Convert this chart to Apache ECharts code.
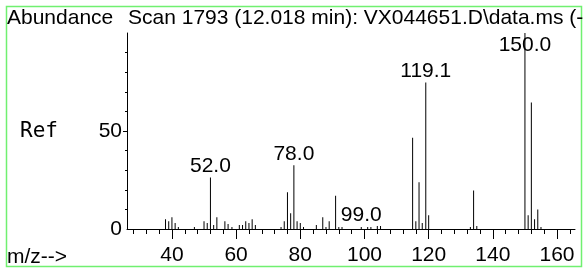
<!DOCTYPE html>
<html>
<head>
<meta charset="utf-8">
<script src="https://cdn.jsdelivr.net/npm/echarts@6/dist/echarts.min.js"></script>
<style>
  html, body { margin: 0; padding: 0; background: #fff; }
  #chart { width: 585px; height: 270px; }
</style>
</head>
<body>
<div id="chart"></div>
<script>
// peaks (m/z, relative abundance)
const mz = [38, 39, 40, 41, 42, 47, 50, 51, 52, 53, 54, 56.5, 57.5, 58.7,
  61, 62, 63, 64, 65, 66, 74, 75, 76, 77, 78, 79, 80, 81,
  85, 87, 88, 89, 91, 92, 93, 99, 101, 102, 104, 105,
  115, 116, 117, 118, 119.1, 120, 133, 134, 135,
  150, 151, 152, 153, 154, 155]
const abundance = [5, 4, 6, 3, 1, 1, 4, 3, 26.3, 2, 6, 4, 2.5, 1,
  2, 2, 4, 3, 5, 2, 1, 4, 18.8, 8, 32.5, 4, 3, 1,
  2, 6, 1, 4, 17, 1, 1, 1, 1, 1, 1.5, 1.5,
  46.5, 4, 23.8, 3, 74.7, 7, 1, 19.7, 1.5,
  100, 7, 64.5, 5, 10, 1]
const labeledPeaks = [52, 78, 99, 119.1, 150]

const xMajorTicks = [40, 60, 80, 100, 120, 140, 160]
const xMinorTicks = [28, 32, 36, 44, 48, 52, 56, 64, 68, 72, 76, 84, 88, 92, 96,
  104, 108, 112, 116, 124, 128, 132, 136, 144, 148, 152, 156, 164]
const yLabels = [0, 50]
const yMinorTicks = [10, 20, 30, 40, 60, 70, 80, 90]

const FONT = 'Liberation Sans, Arial, sans-serif'

const chart = echarts.init(document.getElementById('chart'))

const barData = mz.map((m, i) => {
  const item = { value: [m, abundance[i]] }
  if (labeledPeaks.includes(m)) {
    item.label = {
      show: true,
      formatter: m.toFixed(1),
      position: abundance[i] >= 100 ? 'insideTop' : 'top',
      distance: abundance[i] >= 100 ? 2 : 1
    }
  }
  return item
})

const option = {
  animation: false,
  grid: { left: 127, right: 10, top: 33, bottom: 41 },
  xAxis: [
    {
      type: 'value',
      min: 26,
      max: 165.6,
      axisLine: { lineStyle: { color: '#000', width: 1 } },
      axisTick: { customValues: xMajorTicks, length: 10, lineStyle: { color: '#000' } },
      axisLabel: { customValues: xMajorTicks, color: '#000', fontSize: 21, fontFamily: FONT, margin: 16 },
      splitLine: { show: false }
    },
    {
      type: 'value',
      position: 'bottom',
      min: 26,
      max: 165.6,
      axisLine: { show: false },
      axisTick: { customValues: xMinorTicks, length: 5, lineStyle: { color: '#000' } },
      axisLabel: { show: false },
      splitLine: { show: false }
    }
  ],
  yAxis: [
    {
      type: 'value',
      min: 0,
      max: 100,
      axisLine: { show: true, lineStyle: { color: '#000', width: 1 } },
      axisTick: { customValues: [50], length: 4, lineStyle: { color: '#000' } },
      axisLabel: { customValues: yLabels, color: '#000', fontSize: 21, fontFamily: FONT, margin: 5 },
      splitLine: { show: false }
    },
    {
      type: 'value',
      position: 'left',
      min: 0,
      max: 100,
      axisLine: { show: false },
      axisTick: { show: true, customValues: yMinorTicks, length: 2, lineStyle: { color: '#000' } },
      axisLabel: { show: false },
      splitLine: { show: false }
    }
  ],
  series: [
    {
      type: 'bar',
      xAxisIndex: 0,
      yAxisIndex: 0,
      barWidth: 1,
      itemStyle: { color: '#000' },
      label: { color: '#000', fontSize: 21, fontFamily: FONT },
      data: barData
    }
  ],
  graphic: [
    {
      type: 'rect',
      shape: { x: 6.5, y: 6.5, width: 575, height: 260 },
      style: { fill: 'none', stroke: '#70f070', lineWidth: 1.5 },
      silent: true
    },
    {
      type: 'text', left: 7, top: 8,
      style: { text: 'Abundance', font: '21px ' + FONT, fill: '#000' }
    },
    {
      type: 'text', left: 128, top: 8,
      style: { text: 'Scan 1793 (12.018 min): VX044651.D\\data.ms (-', font: '21px ' + FONT, fill: '#000' }
    },
    {
      type: 'text', left: 20, top: 121,
      style: { text: 'Ref', font: '21px DejaVu Sans Mono, monospace', fill: '#000' }
    },
    {
      type: 'text', left: 7, top: 247,
      style: { text: 'm/z-->', font: '21px ' + FONT, fill: '#000' }
    }
  ]
}

chart.setOption(option)
</script>
</body>
</html>
